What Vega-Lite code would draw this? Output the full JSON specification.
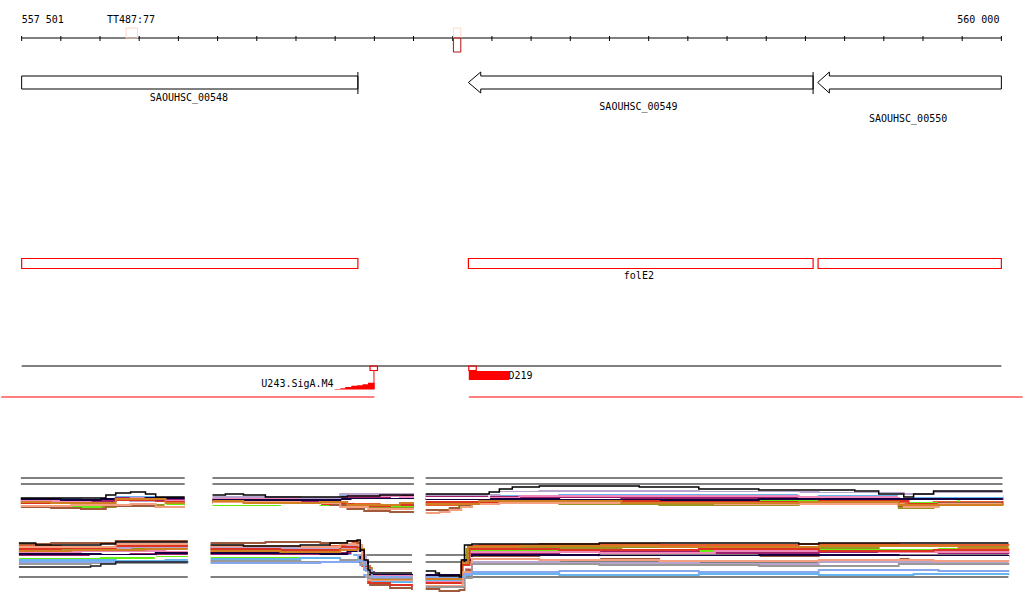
{
"$schema": "https://vega.github.io/schema/vega-lite/v6.json",
"width": 1024, "height": 611,
"autosize": {"type": "fit", "contains": "padding"},
"padding": 0,
"background": "white",
"config": {"view": {"stroke": null}},
"datasets": {
"ticks": [
{"x":557501,"y":36,"y2":41},{"x":557601,"y":36,"y2":41},{"x":557701,"y":36,"y2":41},{"x":557801,"y":36,"y2":41},{"x":557901,"y":36,"y2":41},
{"x":558001,"y":36,"y2":41},{"x":558101,"y":36,"y2":41},{"x":558201,"y":36,"y2":41},{"x":558301,"y":36,"y2":41},{"x":558401,"y":36,"y2":41},
{"x":558501,"y":36,"y2":41},{"x":558601,"y":36,"y2":41},{"x":558701,"y":36,"y2":41},{"x":558801,"y":36,"y2":41},{"x":558901,"y":36,"y2":41},
{"x":559001,"y":36,"y2":41},{"x":559101,"y":36,"y2":41},{"x":559201,"y":36,"y2":41},{"x":559301,"y":36,"y2":41},{"x":559401,"y":36,"y2":41},
{"x":559501,"y":36,"y2":41},{"x":559601,"y":36,"y2":41},{"x":559701,"y":36,"y2":41},{"x":559801,"y":36,"y2":41},{"x":559901,"y":36,"y2":41},
{"x":560001,"y":36,"y2":41},
{"x":558359,"y":72,"y2":94},{"x":559520.6,"y":72,"y2":94}
],
"blackRules": [
{"x":557501,"x2":560001,"y":38},
{"x":557501,"x2":560001,"y":366},
{"x":557499,"x2":557917,"y":478},{"x":557499,"x2":557917,"y":484},
{"x":557988,"x2":558502,"y":478},{"x":557988,"x2":558502,"y":484},
{"x":558532,"x2":560004,"y":478},{"x":558532,"x2":560004,"y":484},
{"x":557494,"x2":557925,"y":577},
{"x":557983,"x2":558497,"y":577},{"x":558357,"x2":558497,"y":555},{"x":558357,"x2":558497,"y":562},
{"x":558532,"x2":560019,"y":577},{"x":558532,"x2":560019,"y":555},{"x":558532,"x2":560019,"y":562}
],
"redRules": [
{"x":557449,"x2":558401,"y":397},{"x":558642,"x2":560055,"y":397}
],
"redVRules": [{"x":558400,"y":370,"y2":389}],
"genes": [
{"g":"SAOUHSC_00548","o":1,"x":557501,"y":76},{"g":"SAOUHSC_00548","o":2,"x":558359,"y":76},{"g":"SAOUHSC_00548","o":3,"x":558359,"y":89},{"g":"SAOUHSC_00548","o":4,"x":557501,"y":89},{"g":"SAOUHSC_00548","o":5,"x":557501,"y":76},
{"g":"SAOUHSC_00549","o":1,"x":559520.6,"y":76},{"g":"SAOUHSC_00549","o":2,"x":558672.5,"y":76},{"g":"SAOUHSC_00549","o":3,"x":558672.5,"y":72},{"g":"SAOUHSC_00549","o":4,"x":558641,"y":82.5},{"g":"SAOUHSC_00549","o":5,"x":558672.5,"y":93},{"g":"SAOUHSC_00549","o":6,"x":558672.5,"y":89},{"g":"SAOUHSC_00549","o":7,"x":559520.6,"y":89},{"g":"SAOUHSC_00549","o":8,"x":559520.6,"y":76},
{"g":"SAOUHSC_00550","o":1,"x":560001,"y":76},{"g":"SAOUHSC_00550","o":2,"x":559562,"y":76},{"g":"SAOUHSC_00550","o":3,"x":559562,"y":72},{"g":"SAOUHSC_00550","o":4,"x":559532.3,"y":82.5},{"g":"SAOUHSC_00550","o":5,"x":559562,"y":93},{"g":"SAOUHSC_00550","o":6,"x":559562,"y":89},{"g":"SAOUHSC_00550","o":7,"x":560001,"y":89},{"g":"SAOUHSC_00550","o":8,"x":560001,"y":76}
],
"redBoxes": [
{"x":557501,"x2":558359,"y":258.5,"y2":268.5},
{"x":558641,"x2":559520.6,"y":258.5,"y2":268.5},
{"x":559533.3,"x2":560001,"y":258.5,"y2":268.5},
{"x":558390,"x2":558409,"y":366,"y2":370.5},
{"x":558642,"x2":558661,"y":366,"y2":370.5}
],
"pinkBoxes": [
{"x":557767.4,"x2":557796.4,"y":28,"y2":38},
{"x":558602.7,"x2":558621.6,"y":28,"y2":38}
],
"darkRedBoxes": [{"x":558602.7,"x2":558621.6,"y":38,"y2":52}],
"filledRed": [{"x":558642,"x2":558745,"y":371,"y2":380}],
"stair": [
{"x":558299.7,"y":389,"y2":389.5},{"x":558314.2,"y":388.3,"y2":389.5},{"x":558326.9,"y":387,"y2":389.5},{"x":558342.2,"y":385.7,"y2":389.5},
{"x":558356.7,"y":385.3,"y2":389.5},{"x":558371,"y":384.3,"y2":389.5},{"x":558384.7,"y":382.7,"y2":389.5},{"x":558401.5,"y":382.7,"y2":389.5}
],
"labelsL": [
{"t":"557 501","x":557501,"y":20},{"t":"D219","x":558743,"y":375.5}
],
"labelsC": [
{"t":"TT487:77","x":557780,"y":20},
{"t":"SAOUHSC_00548","x":557928,"y":97.5},
{"t":"SAOUHSC_00549","x":559075,"y":106.5},
{"t":"SAOUHSC_00550","x":559763,"y":118.5},
{"t":"folE2","x":559076,"y":275.5}
],
"labelsR": [
{"t":"560 000","x":559996,"y":20},{"t":"U243.SigA.M4","x":558297,"y":383.5}
],
"expr": [
{"s":"k","p":"t1","x":557499,"y":498},{"s":"k","p":"t1","x":557716,"y":495},{"s":"k","p":"t1","x":557741,"y":493},{"s":"k","p":"t1","x":557779,"y":492},{"s":"k","p":"t1","x":557817,"y":494},{"s":"k","p":"t1","x":557843,"y":497},{"s":"k","p":"t1","x":557917,"y":497},
{"s":"o","p":"t1","x":557499,"y":502},{"s":"o","p":"t1","x":557627,"y":504},{"s":"o","p":"t1","x":557779,"y":500},{"s":"o","p":"t1","x":557843,"y":503},{"s":"o","p":"t1","x":557917,"y":503},
{"s":"l","p":"t1","x":557499,"y":504},{"s":"l","p":"t1","x":557576,"y":506},{"s":"l","p":"t1","x":557677,"y":507},{"s":"l","p":"t1","x":557741,"y":503},{"s":"l","p":"t1","x":557843,"y":505},{"s":"l","p":"t1","x":557917,"y":505},
{"s":"g","p":"t1","x":557499,"y":506},{"s":"g","p":"t1","x":557601,"y":507},{"s":"g","p":"t1","x":557703,"y":505},{"s":"g","p":"t1","x":557779,"y":502},{"s":"g","p":"t1","x":557868,"y":504},{"s":"g","p":"t1","x":557917,"y":504},
{"s":"c","p":"t1","x":557499,"y":499},{"s":"c","p":"t1","x":557652,"y":500},{"s":"c","p":"t1","x":557741,"y":497},{"s":"c","p":"t1","x":557843,"y":499},{"s":"c","p":"t1","x":557917,"y":499},
{"s":"m","p":"t1","x":557499,"y":500},{"s":"m","p":"t1","x":557627,"y":501},{"s":"m","p":"t1","x":557741,"y":498},{"s":"m","p":"t1","x":557843,"y":500},{"s":"m","p":"t1","x":557917,"y":500},
{"s":"b","p":"t1","x":557499,"y":507},{"s":"b","p":"t1","x":557576,"y":508},{"s":"b","p":"t1","x":557652,"y":509},{"s":"b","p":"t1","x":557716,"y":506},{"s":"b","p":"t1","x":557843,"y":507},{"s":"b","p":"t1","x":557917,"y":507},
{"s":"p","p":"t1","x":557499,"y":501},{"s":"p","p":"t1","x":557677,"y":503},{"s":"p","p":"t1","x":557779,"y":498},{"s":"p","p":"t1","x":557868,"y":501},{"s":"p","p":"t1","x":557917,"y":501},
{"s":"n","p":"t1","x":557499,"y":499},{"s":"n","p":"t1","x":557601,"y":500},{"s":"n","p":"t1","x":557703,"y":499},{"s":"n","p":"t1","x":557817,"y":498},{"s":"n","p":"t1","x":557917,"y":498},
{"s":"v","p":"t1","x":557499,"y":504},{"s":"v","p":"t1","x":557652,"y":505},{"s":"v","p":"t1","x":557779,"y":502},{"s":"v","p":"t1","x":557894,"y":503},{"s":"v","p":"t1","x":557917,"y":503},
{"s":"r","p":"t1","x":557499,"y":503},{"s":"r","p":"t1","x":557601,"y":504},{"s":"r","p":"t1","x":557741,"y":500},{"s":"r","p":"t1","x":557843,"y":502},{"s":"r","p":"t1","x":557917,"y":502},
{"s":"w","p":"t1","x":557499,"y":505},{"s":"w","p":"t1","x":557703,"y":503},{"s":"w","p":"t1","x":557868,"y":506},{"s":"w","p":"t1","x":557917,"y":506},
{"s":"s","p":"t1","x":557499,"y":506},{"s":"s","p":"t1","x":557627,"y":505},{"s":"s","p":"t1","x":557779,"y":504},{"s":"s","p":"t1","x":557843,"y":507},{"s":"s","p":"t1","x":557917,"y":507},
{"s":"u","p":"t1","x":557499,"y":502},{"s":"u","p":"t1","x":557576,"y":503},{"s":"u","p":"t1","x":557741,"y":499},{"s":"u","p":"t1","x":557868,"y":503},{"s":"u","p":"t1","x":557917,"y":503},

{"s":"k","p":"t2","x":557988,"y":495},{"s":"k","p":"t2","x":558021,"y":494},{"s":"k","p":"t2","x":558067,"y":495},{"s":"k","p":"t2","x":558123,"y":497},{"s":"k","p":"t2","x":558288,"y":497},{"s":"k","p":"t2","x":558332,"y":496},{"s":"k","p":"t2","x":558415,"y":495},{"s":"k","p":"t2","x":558502,"y":495},
{"s":"o","p":"t2","x":557988,"y":501},{"s":"o","p":"t2","x":558123,"y":502},{"s":"o","p":"t2","x":558263,"y":501},{"s":"o","p":"t2","x":558314,"y":504},{"s":"o","p":"t2","x":558415,"y":506},{"s":"o","p":"t2","x":558502,"y":506},
{"s":"l","p":"t2","x":557988,"y":503},{"s":"l","p":"t2","x":558067,"y":502},{"s":"l","p":"t2","x":558212,"y":504},{"s":"l","p":"t2","x":558288,"y":503},{"s":"l","p":"t2","x":558345,"y":507},{"s":"l","p":"t2","x":558441,"y":508},{"s":"l","p":"t2","x":558502,"y":508},
{"s":"g","p":"t2","x":557988,"y":505},{"s":"g","p":"t2","x":558161,"y":504},{"s":"g","p":"t2","x":558263,"y":505},{"s":"g","p":"t2","x":558314,"y":506},{"s":"g","p":"t2","x":558502,"y":506},
{"s":"c","p":"t2","x":557988,"y":499},{"s":"c","p":"t2","x":558123,"y":500},{"s":"c","p":"t2","x":558263,"y":498},{"s":"c","p":"t2","x":558314,"y":495},{"s":"c","p":"t2","x":558441,"y":494},{"s":"c","p":"t2","x":558502,"y":494},
{"s":"m","p":"t2","x":557988,"y":500},{"s":"m","p":"t2","x":558212,"y":501},{"s":"m","p":"t2","x":558314,"y":497},{"s":"m","p":"t2","x":558441,"y":496},{"s":"m","p":"t2","x":558502,"y":496},
{"s":"b","p":"t2","x":557988,"y":502},{"s":"b","p":"t2","x":558123,"y":503},{"s":"b","p":"t2","x":558288,"y":505},{"s":"b","p":"t2","x":558332,"y":509},{"s":"b","p":"t2","x":558375,"y":511},{"s":"b","p":"t2","x":558441,"y":512},{"s":"b","p":"t2","x":558502,"y":512},
{"s":"p","p":"t2","x":557988,"y":498},{"s":"p","p":"t2","x":558161,"y":499},{"s":"p","p":"t2","x":558288,"y":498},{"s":"p","p":"t2","x":558332,"y":496},{"s":"p","p":"t2","x":558466,"y":497},{"s":"p","p":"t2","x":558502,"y":497},
{"s":"n","p":"t2","x":557988,"y":500},{"s":"n","p":"t2","x":558314,"y":499},{"s":"n","p":"t2","x":558502,"y":499},
{"s":"v","p":"t2","x":557988,"y":497},{"s":"v","p":"t2","x":558212,"y":498},{"s":"v","p":"t2","x":558314,"y":494},{"s":"v","p":"t2","x":558502,"y":494},
{"s":"r","p":"t2","x":557988,"y":503},{"s":"r","p":"t2","x":558123,"y":504},{"s":"r","p":"t2","x":558288,"y":503},{"s":"r","p":"t2","x":558345,"y":506},{"s":"r","p":"t2","x":558441,"y":505},{"s":"r","p":"t2","x":558502,"y":505},
{"s":"w","p":"t2","x":557988,"y":504},{"s":"w","p":"t2","x":558263,"y":502},{"s":"w","p":"t2","x":558345,"y":500},{"s":"w","p":"t2","x":558502,"y":500},
{"s":"s","p":"t2","x":557988,"y":502},{"s":"s","p":"t2","x":558212,"y":503},{"s":"s","p":"t2","x":558314,"y":507},{"s":"s","p":"t2","x":558385,"y":509},{"s":"s","p":"t2","x":558502,"y":509},
{"s":"u","p":"t2","x":557988,"y":501},{"s":"u","p":"t2","x":558067,"y":503},{"s":"u","p":"t2","x":558263,"y":502},{"s":"u","p":"t2","x":558332,"y":505},{"s":"u","p":"t2","x":558466,"y":503},{"s":"u","p":"t2","x":558502,"y":503},

{"s":"k","p":"t3","x":558532,"y":494},{"s":"k","p":"t3","x":558694,"y":492},{"s":"k","p":"t3","x":558720,"y":489},{"s":"k","p":"t3","x":558753,"y":487},{"s":"k","p":"t3","x":558822,"y":486},{"s":"k","p":"t3","x":559077,"y":487},{"s":"k","p":"t3","x":559229,"y":489},{"s":"k","p":"t3","x":559382,"y":490},{"s":"k","p":"t3","x":559627,"y":491},{"s":"k","p":"t3","x":559688,"y":494},{"s":"k","p":"t3","x":559752,"y":497},{"s":"k","p":"t3","x":559777,"y":494},{"s":"k","p":"t3","x":559828,"y":491},{"s":"k","p":"t3","x":560004,"y":491},
{"s":"o","p":"t3","x":558532,"y":505},{"s":"o","p":"t3","x":558618,"y":506},{"s":"o","p":"t3","x":558644,"y":503},{"s":"o","p":"t3","x":558669,"y":502},{"s":"o","p":"t3","x":558975,"y":501},{"s":"o","p":"t3","x":559270,"y":502},{"s":"o","p":"t3","x":559535,"y":500},{"s":"o","p":"t3","x":559739,"y":503},{"s":"o","p":"t3","x":559828,"y":502},{"s":"o","p":"t3","x":560004,"y":502},
{"s":"l","p":"t3","x":558532,"y":499},{"s":"l","p":"t3","x":558669,"y":500},{"s":"l","p":"t3","x":558873,"y":504},{"s":"l","p":"t3","x":559128,"y":505},{"s":"l","p":"t3","x":559484,"y":504},{"s":"l","p":"t3","x":559739,"y":508},{"s":"l","p":"t3","x":559828,"y":504},{"s":"l","p":"t3","x":560004,"y":505},
{"s":"g","p":"t3","x":558532,"y":503},{"s":"g","p":"t3","x":558618,"y":507},{"s":"g","p":"t3","x":558650,"y":503},{"s":"g","p":"t3","x":558669,"y":502},{"s":"g","p":"t3","x":559031,"y":500},{"s":"g","p":"t3","x":559484,"y":501},{"s":"g","p":"t3","x":559764,"y":503},{"s":"g","p":"t3","x":559892,"y":499},{"s":"g","p":"t3","x":560004,"y":500},
{"s":"c","p":"t3","x":558532,"y":497},{"s":"c","p":"t3","x":558669,"y":496},{"s":"c","p":"t3","x":558873,"y":495},{"s":"c","p":"t3","x":559229,"y":494},{"s":"c","p":"t3","x":559535,"y":496},{"s":"c","p":"t3","x":559777,"y":497},{"s":"c","p":"t3","x":560004,"y":496},
{"s":"m","p":"t3","x":558532,"y":496},{"s":"m","p":"t3","x":558720,"y":497},{"s":"m","p":"t3","x":559031,"y":498},{"s":"m","p":"t3","x":559382,"y":497},{"s":"m","p":"t3","x":559739,"y":499},{"s":"m","p":"t3","x":560004,"y":498},
{"s":"b","p":"t3","x":558532,"y":510},{"s":"b","p":"t3","x":558593,"y":508},{"s":"b","p":"t3","x":558618,"y":505},{"s":"b","p":"t3","x":558650,"y":502},{"s":"b","p":"t3","x":558694,"y":501},{"s":"b","p":"t3","x":558873,"y":502},{"s":"b","p":"t3","x":559270,"y":503},{"s":"b","p":"t3","x":559739,"y":506},{"s":"b","p":"t3","x":559841,"y":503},{"s":"b","p":"t3","x":560004,"y":503},
{"s":"p","p":"t3","x":558532,"y":498},{"s":"p","p":"t3","x":558771,"y":496},{"s":"p","p":"t3","x":559128,"y":496},{"s":"p","p":"t3","x":559484,"y":497},{"s":"p","p":"t3","x":559739,"y":499},{"s":"p","p":"t3","x":559828,"y":496},{"s":"p","p":"t3","x":560004,"y":497},
{"s":"n","p":"t3","x":558532,"y":499},{"s":"n","p":"t3","x":558873,"y":500},{"s":"n","p":"t3","x":559382,"y":499},{"s":"n","p":"t3","x":560004,"y":499},
{"s":"v","p":"t3","x":558532,"y":495},{"s":"v","p":"t3","x":558720,"y":492},{"s":"v","p":"t3","x":558822,"y":491},{"s":"v","p":"t3","x":559229,"y":492},{"s":"v","p":"t3","x":559535,"y":493},{"s":"v","p":"t3","x":559752,"y":494},{"s":"v","p":"t3","x":559828,"y":492},{"s":"v","p":"t3","x":560004,"y":492},
{"s":"r","p":"t3","x":558532,"y":502},{"s":"r","p":"t3","x":558822,"y":501},{"s":"r","p":"t3","x":559128,"y":502},{"s":"r","p":"t3","x":559535,"y":501},{"s":"r","p":"t3","x":559764,"y":504},{"s":"r","p":"t3","x":560004,"y":501},
{"s":"w","p":"t3","x":558532,"y":498},{"s":"w","p":"t3","x":558694,"y":493},{"s":"w","p":"t3","x":558873,"y":493},{"s":"w","p":"t3","x":559484,"y":494},{"s":"w","p":"t3","x":559739,"y":496},{"s":"w","p":"t3","x":560004,"y":494},
{"s":"s","p":"t3","x":558532,"y":513},{"s":"s","p":"t3","x":558567,"y":512},{"s":"s","p":"t3","x":558593,"y":510},{"s":"s","p":"t3","x":558623,"y":507},{"s":"s","p":"t3","x":558650,"y":504},{"s":"s","p":"t3","x":558720,"y":503},{"s":"s","p":"t3","x":559270,"y":504},{"s":"s","p":"t3","x":559752,"y":507},{"s":"s","p":"t3","x":559841,"y":504},{"s":"s","p":"t3","x":560004,"y":504},
{"s":"u","p":"t3","x":558532,"y":504},{"s":"u","p":"t3","x":558669,"y":501},{"s":"u","p":"t3","x":559031,"y":503},{"s":"u","p":"t3","x":559484,"y":502},{"s":"u","p":"t3","x":559739,"y":505},{"s":"u","p":"t3","x":560004,"y":503},

{"s":"k","p":"b1","x":557494,"y":543},{"s":"k","p":"b1","x":557537,"y":545},{"s":"k","p":"b1","x":557703,"y":544},{"s":"k","p":"b1","x":557741,"y":542},{"s":"k","p":"b1","x":557925,"y":542},
{"s":"z","p":"b1","x":557494,"y":567},{"s":"z","p":"b1","x":557677,"y":566},{"s":"z","p":"b1","x":557703,"y":564},{"s":"z","p":"b1","x":557741,"y":562},{"s":"z","p":"b1","x":557925,"y":562},
{"s":"o","p":"b1","x":557494,"y":546},{"s":"o","p":"b1","x":557601,"y":547},{"s":"o","p":"b1","x":557779,"y":545},{"s":"o","p":"b1","x":557925,"y":545},
{"s":"l","p":"b1","x":557494,"y":550},{"s":"l","p":"b1","x":557652,"y":549},{"s":"l","p":"b1","x":557817,"y":548},{"s":"l","p":"b1","x":557925,"y":548},
{"s":"g","p":"b1","x":557494,"y":558},{"s":"g","p":"b1","x":557576,"y":559},{"s":"g","p":"b1","x":557703,"y":558},{"s":"g","p":"b1","x":557843,"y":557},{"s":"g","p":"b1","x":557925,"y":557},
{"s":"c","p":"b1","x":557494,"y":560},{"s":"c","p":"b1","x":557741,"y":561},{"s":"c","p":"b1","x":557868,"y":560},{"s":"c","p":"b1","x":557925,"y":560},
{"s":"m","p":"b1","x":557494,"y":555},{"s":"m","p":"b1","x":557627,"y":556},{"s":"m","p":"b1","x":557779,"y":554},{"s":"m","p":"b1","x":557925,"y":554},
{"s":"b","p":"b1","x":557494,"y":544},{"s":"b","p":"b1","x":557576,"y":543},{"s":"b","p":"b1","x":557741,"y":541},{"s":"b","p":"b1","x":557925,"y":541},
{"s":"p","p":"b1","x":557494,"y":552},{"s":"p","p":"b1","x":557652,"y":551},{"s":"p","p":"b1","x":557868,"y":552},{"s":"p","p":"b1","x":557925,"y":552},
{"s":"n","p":"b1","x":557494,"y":554},{"s":"n","p":"b1","x":557703,"y":555},{"s":"n","p":"b1","x":557843,"y":553},{"s":"n","p":"b1","x":557925,"y":553},
{"s":"v","p":"b1","x":557494,"y":548},{"s":"v","p":"b1","x":557779,"y":547},{"s":"v","p":"b1","x":557925,"y":547},
{"s":"r","p":"b1","x":557494,"y":549},{"s":"r","p":"b1","x":557601,"y":548},{"s":"r","p":"b1","x":557741,"y":546},{"s":"r","p":"b1","x":557925,"y":546},
{"s":"w","p":"b1","x":557494,"y":557},{"s":"w","p":"b1","x":557677,"y":556},{"s":"w","p":"b1","x":557843,"y":558},{"s":"w","p":"b1","x":557925,"y":558},
{"s":"s","p":"b1","x":557494,"y":547},{"s":"s","p":"b1","x":557741,"y":544},{"s":"s","p":"b1","x":557925,"y":544},
{"s":"u","p":"b1","x":557494,"y":551},{"s":"u","p":"b1","x":557627,"y":550},{"s":"u","p":"b1","x":557817,"y":549},{"s":"u","p":"b1","x":557925,"y":549},
{"s":"a","p":"b1","x":557494,"y":564},{"s":"a","p":"b1","x":557677,"y":563},{"s":"a","p":"b1","x":557925,"y":563},
{"s":"f","p":"b1","x":557494,"y":562},{"s":"f","p":"b1","x":557925,"y":561},

{"s":"k","p":"b2","x":557983,"y":545},{"s":"k","p":"b2","x":558067,"y":546},{"s":"k","p":"b2","x":558212,"y":545},{"s":"k","p":"b2","x":558288,"y":543},{"s":"k","p":"b2","x":558332,"y":541},{"s":"k","p":"b2","x":558357,"y":540},{"s":"k","p":"b2","x":558365,"y":550},{"s":"k","p":"b2","x":558375,"y":560},{"s":"k","p":"b2","x":558385,"y":570},{"s":"k","p":"b2","x":558390,"y":573},{"s":"k","p":"b2","x":558497,"y":573},
{"s":"o","p":"b2","x":557983,"y":547},{"s":"o","p":"b2","x":558161,"y":548},{"s":"o","p":"b2","x":558288,"y":546},{"s":"o","p":"b2","x":558345,"y":543},{"s":"o","p":"b2","x":558365,"y":555},{"s":"o","p":"b2","x":558375,"y":566},{"s":"o","p":"b2","x":558390,"y":578},{"s":"o","p":"b2","x":558441,"y":579},{"s":"o","p":"b2","x":558497,"y":580},
{"s":"l","p":"b2","x":557983,"y":550},{"s":"l","p":"b2","x":558123,"y":549},{"s":"l","p":"b2","x":558288,"y":548},{"s":"l","p":"b2","x":558345,"y":545},{"s":"l","p":"b2","x":558365,"y":556},{"s":"l","p":"b2","x":558375,"y":568},{"s":"l","p":"b2","x":558395,"y":576},{"s":"l","p":"b2","x":558466,"y":577},{"s":"l","p":"b2","x":558497,"y":578},
{"s":"g","p":"b2","x":557983,"y":557},{"s":"g","p":"b2","x":558212,"y":558},{"s":"g","p":"b2","x":558288,"y":556},{"s":"g","p":"b2","x":558345,"y":554},{"s":"g","p":"b2","x":558370,"y":565},{"s":"g","p":"b2","x":558380,"y":574},{"s":"g","p":"b2","x":558400,"y":577},{"s":"g","p":"b2","x":558497,"y":578},
{"s":"c","p":"b2","x":557983,"y":559},{"s":"c","p":"b2","x":558212,"y":558},{"s":"c","p":"b2","x":558314,"y":555},{"s":"c","p":"b2","x":558360,"y":562},{"s":"c","p":"b2","x":558375,"y":575},{"s":"c","p":"b2","x":558395,"y":582},{"s":"c","p":"b2","x":558497,"y":583},
{"s":"m","p":"b2","x":557983,"y":554},{"s":"m","p":"b2","x":558161,"y":555},{"s":"m","p":"b2","x":558288,"y":553},{"s":"m","p":"b2","x":558345,"y":550},{"s":"m","p":"b2","x":558365,"y":560},{"s":"m","p":"b2","x":558380,"y":572},{"s":"m","p":"b2","x":558400,"y":575},{"s":"m","p":"b2","x":558497,"y":576},
{"s":"b","p":"b2","x":557983,"y":543},{"s":"b","p":"b2","x":558123,"y":542},{"s":"b","p":"b2","x":558263,"y":543},{"s":"b","p":"b2","x":558332,"y":541},{"s":"b","p":"b2","x":558360,"y":550},{"s":"b","p":"b2","x":558375,"y":568},{"s":"b","p":"b2","x":558390,"y":585},{"s":"b","p":"b2","x":558441,"y":588},{"s":"b","p":"b2","x":558497,"y":590},
{"s":"p","p":"b2","x":557983,"y":552},{"s":"p","p":"b2","x":558212,"y":553},{"s":"p","p":"b2","x":558314,"y":549},{"s":"p","p":"b2","x":558357,"y":552},{"s":"p","p":"b2","x":558375,"y":571},{"s":"p","p":"b2","x":558395,"y":576},{"s":"p","p":"b2","x":558497,"y":577},
{"s":"n","p":"b2","x":557983,"y":553},{"s":"n","p":"b2","x":558263,"y":554},{"s":"n","p":"b2","x":558332,"y":551},{"s":"n","p":"b2","x":558365,"y":562},{"s":"n","p":"b2","x":558385,"y":574},{"s":"n","p":"b2","x":558497,"y":575},
{"s":"v","p":"b2","x":557983,"y":548},{"s":"v","p":"b2","x":558263,"y":549},{"s":"v","p":"b2","x":558332,"y":546},{"s":"v","p":"b2","x":558360,"y":555},{"s":"v","p":"b2","x":558380,"y":577},{"s":"v","p":"b2","x":558441,"y":580},{"s":"v","p":"b2","x":558497,"y":582},
{"s":"r","p":"b2","x":557983,"y":549},{"s":"r","p":"b2","x":558161,"y":550},{"s":"r","p":"b2","x":558314,"y":547},{"s":"r","p":"b2","x":558357,"y":548},{"s":"r","p":"b2","x":558370,"y":566},{"s":"r","p":"b2","x":558385,"y":583},{"s":"r","p":"b2","x":558441,"y":585},{"s":"r","p":"b2","x":558497,"y":587},
{"s":"w","p":"b2","x":557983,"y":556},{"s":"w","p":"b2","x":558288,"y":556},{"s":"w","p":"b2","x":558345,"y":553},{"s":"w","p":"b2","x":558375,"y":573},{"s":"w","p":"b2","x":558497,"y":574},
{"s":"s","p":"b2","x":557983,"y":546},{"s":"s","p":"b2","x":558212,"y":547},{"s":"s","p":"b2","x":558314,"y":544},{"s":"s","p":"b2","x":558352,"y":545},{"s":"s","p":"b2","x":558370,"y":565},{"s":"s","p":"b2","x":558385,"y":580},{"s":"s","p":"b2","x":558497,"y":581},
{"s":"u","p":"b2","x":557983,"y":551},{"s":"u","p":"b2","x":558161,"y":552},{"s":"u","p":"b2","x":558314,"y":550},{"s":"u","p":"b2","x":558357,"y":549},{"s":"u","p":"b2","x":558375,"y":569},{"s":"u","p":"b2","x":558395,"y":579},{"s":"u","p":"b2","x":558497,"y":579},
{"s":"a","p":"b2","x":557983,"y":561},{"s":"a","p":"b2","x":558212,"y":562},{"s":"a","p":"b2","x":558314,"y":560},{"s":"a","p":"b2","x":558365,"y":565},{"s":"a","p":"b2","x":558385,"y":578},{"s":"a","p":"b2","x":558497,"y":579},
{"s":"f","p":"b2","x":557983,"y":563},{"s":"f","p":"b2","x":558263,"y":562},{"s":"f","p":"b2","x":558357,"y":561},{"s":"f","p":"b2","x":558375,"y":570},{"s":"f","p":"b2","x":558395,"y":577},{"s":"f","p":"b2","x":558497,"y":577},

{"s":"k","p":"b3","x":558532,"y":571},{"s":"k","p":"b3","x":558557,"y":573},{"s":"k","p":"b3","x":558567,"y":576},{"s":"k","p":"b3","x":558618,"y":577},{"s":"k","p":"b3","x":558623,"y":560},{"s":"k","p":"b3","x":558631,"y":545},{"s":"k","p":"b3","x":558650,"y":544},{"s":"k","p":"b3","x":558975,"y":543},{"s":"k","p":"b3","x":559484,"y":544},{"s":"k","p":"b3","x":559535,"y":543},{"s":"k","p":"b3","x":560019,"y":543},
{"s":"o","p":"b3","x":558532,"y":580},{"s":"o","p":"b3","x":558618,"y":583},{"s":"o","p":"b3","x":558626,"y":560},{"s":"o","p":"b3","x":558640,"y":546},{"s":"o","p":"b3","x":558669,"y":545},{"s":"o","p":"b3","x":558822,"y":544},{"s":"o","p":"b3","x":559128,"y":545},{"s":"o","p":"b3","x":559484,"y":544},{"s":"o","p":"b3","x":559739,"y":545},{"s":"o","p":"b3","x":560019,"y":546},
{"s":"l","p":"b3","x":558532,"y":578},{"s":"l","p":"b3","x":558623,"y":566},{"s":"l","p":"b3","x":558636,"y":549},{"s":"l","p":"b3","x":558720,"y":548},{"s":"l","p":"b3","x":559031,"y":547},{"s":"l","p":"b3","x":559382,"y":548},{"s":"l","p":"b3","x":559688,"y":546},{"s":"l","p":"b3","x":559892,"y":547},{"s":"l","p":"b3","x":560019,"y":547},
{"s":"g","p":"b3","x":558532,"y":581},{"s":"g","p":"b3","x":558623,"y":570},{"s":"g","p":"b3","x":558640,"y":551},{"s":"g","p":"b3","x":558771,"y":550},{"s":"g","p":"b3","x":559077,"y":551},{"s":"g","p":"b3","x":559535,"y":550},{"s":"g","p":"b3","x":559841,"y":549},{"s":"g","p":"b3","x":560019,"y":550},
{"s":"c","p":"b3","x":558532,"y":580},{"s":"c","p":"b3","x":558626,"y":575},{"s":"c","p":"b3","x":558650,"y":574},{"s":"c","p":"b3","x":558873,"y":575},{"s":"c","p":"b3","x":559229,"y":574},{"s":"c","p":"b3","x":559535,"y":575},{"s":"c","p":"b3","x":559777,"y":574},{"s":"c","p":"b3","x":560019,"y":575},
{"s":"m","p":"b3","x":558532,"y":576},{"s":"m","p":"b3","x":558623,"y":565},{"s":"m","p":"b3","x":558640,"y":553},{"s":"m","p":"b3","x":558873,"y":552},{"s":"m","p":"b3","x":559229,"y":553},{"s":"m","p":"b3","x":559535,"y":552},{"s":"m","p":"b3","x":559841,"y":553},{"s":"m","p":"b3","x":560019,"y":552},
{"s":"b","p":"b3","x":558532,"y":589},{"s":"b","p":"b3","x":558567,"y":591},{"s":"b","p":"b3","x":558618,"y":590},{"s":"b","p":"b3","x":558631,"y":570},{"s":"b","p":"b3","x":558650,"y":557},{"s":"b","p":"b3","x":558822,"y":558},{"s":"b","p":"b3","x":559128,"y":557},{"s":"b","p":"b3","x":559535,"y":558},{"s":"b","p":"b3","x":559764,"y":557},{"s":"b","p":"b3","x":560019,"y":558},
{"s":"p","p":"b3","x":558532,"y":582},{"s":"p","p":"b3","x":558626,"y":568},{"s":"p","p":"b3","x":558644,"y":552},{"s":"p","p":"b3","x":558975,"y":553},{"s":"p","p":"b3","x":559270,"y":551},{"s":"p","p":"b3","x":559688,"y":552},{"s":"p","p":"b3","x":560019,"y":553},
{"s":"n","p":"b3","x":558532,"y":575},{"s":"n","p":"b3","x":558631,"y":560},{"s":"n","p":"b3","x":558650,"y":555},{"s":"n","p":"b3","x":558975,"y":556},{"s":"n","p":"b3","x":559382,"y":555},{"s":"n","p":"b3","x":559739,"y":556},{"s":"n","p":"b3","x":560019,"y":555},
{"s":"v","p":"b3","x":558532,"y":584},{"s":"v","p":"b3","x":558631,"y":572},{"s":"v","p":"b3","x":558650,"y":562},{"s":"v","p":"b3","x":558873,"y":563},{"s":"v","p":"b3","x":559229,"y":564},{"s":"v","p":"b3","x":559535,"y":562},{"s":"v","p":"b3","x":559841,"y":563},{"s":"v","p":"b3","x":560019,"y":563},
{"s":"r","p":"b3","x":558532,"y":583},{"s":"r","p":"b3","x":558626,"y":565},{"s":"r","p":"b3","x":558644,"y":549},{"s":"r","p":"b3","x":558873,"y":550},{"s":"r","p":"b3","x":559229,"y":549},{"s":"r","p":"b3","x":559535,"y":551},{"s":"r","p":"b3","x":559828,"y":550},{"s":"r","p":"b3","x":560019,"y":551},
{"s":"w","p":"b3","x":558532,"y":585},{"s":"w","p":"b3","x":558631,"y":567},{"s":"w","p":"b3","x":558650,"y":558},{"s":"w","p":"b3","x":558975,"y":557},{"s":"w","p":"b3","x":559382,"y":558},{"s":"w","p":"b3","x":559739,"y":557},{"s":"w","p":"b3","x":560019,"y":558},
{"s":"s","p":"b3","x":558532,"y":586},{"s":"s","p":"b3","x":558626,"y":572},{"s":"s","p":"b3","x":558650,"y":559},{"s":"s","p":"b3","x":558822,"y":560},{"s":"s","p":"b3","x":559128,"y":561},{"s":"s","p":"b3","x":559535,"y":560},{"s":"s","p":"b3","x":559828,"y":561},{"s":"s","p":"b3","x":560019,"y":560},
{"s":"u","p":"b3","x":558532,"y":579},{"s":"u","p":"b3","x":558623,"y":563},{"s":"u","p":"b3","x":558640,"y":547},{"s":"u","p":"b3","x":558771,"y":546},{"s":"u","p":"b3","x":559128,"y":547},{"s":"u","p":"b3","x":559535,"y":546},{"s":"u","p":"b3","x":559892,"y":548},{"s":"u","p":"b3","x":560019,"y":548},
{"s":"a","p":"b3","x":558532,"y":587},{"s":"a","p":"b3","x":558631,"y":578},{"s":"a","p":"b3","x":558650,"y":564},{"s":"a","p":"b3","x":558975,"y":565},{"s":"a","p":"b3","x":559382,"y":566},{"s":"a","p":"b3","x":559739,"y":564},{"s":"a","p":"b3","x":560019,"y":565},
{"s":"f","p":"b3","x":558532,"y":577},{"s":"f","p":"b3","x":558631,"y":574},{"s":"f","p":"b3","x":558650,"y":572},{"s":"f","p":"b3","x":558873,"y":571},{"s":"f","p":"b3","x":559229,"y":572},{"s":"f","p":"b3","x":559535,"y":570},{"s":"f","p":"b3","x":559841,"y":571},{"s":"f","p":"b3","x":560019,"y":570}
]
},
"encoding": {
"x": {"field": "x", "type": "quantitative", "scale": {"domain": [557448.3, 560056.2], "nice": false, "zero": false}, "axis": null},
"y": {"field": "y", "type": "quantitative", "scale": {"domain": [0, 611], "reverse": true, "nice": false, "zero": false}, "axis": null}
},
"layer": [
{"data": {"name": "ticks"}, "mark": {"type": "rule", "color": "#000000", "strokeWidth": 1}, "encoding": {"y2": {"field": "y2"}}},
{"data": {"name": "blackRules"}, "mark": {"type": "rule", "color": "#000000", "strokeWidth": 1}, "encoding": {"x2": {"field": "x2"}}},
{"data": {"name": "redRules"}, "mark": {"type": "rule", "color": "#ff0000", "strokeWidth": 1}, "encoding": {"x2": {"field": "x2"}}},
{"data": {"name": "redVRules"}, "mark": {"type": "rule", "color": "#ff0000", "strokeWidth": 1}, "encoding": {"y2": {"field": "y2"}}},
{"data": {"name": "genes"}, "mark": {"type": "line", "color": "#000000", "strokeWidth": 1, "interpolate": "linear"}, "encoding": {"detail": {"field": "g"}, "order": {"field": "o", "type": "quantitative"}}},
{"data": {"name": "redBoxes"}, "mark": {"type": "rect", "fill": "transparent", "stroke": "#ff0000", "strokeWidth": 1.2}, "encoding": {"x2": {"field": "x2"}, "y2": {"field": "y2"}}},
{"data": {"name": "pinkBoxes"}, "mark": {"type": "rect", "fill": "transparent", "stroke": "#ffd6c8", "strokeWidth": 1}, "encoding": {"x2": {"field": "x2"}, "y2": {"field": "y2"}}},
{"data": {"name": "darkRedBoxes"}, "mark": {"type": "rect", "fill": "transparent", "stroke": "#b01010", "strokeWidth": 1}, "encoding": {"x2": {"field": "x2"}, "y2": {"field": "y2"}}},
{"data": {"name": "filledRed"}, "mark": {"type": "rect", "fill": "#ff0000"}, "encoding": {"x2": {"field": "x2"}, "y2": {"field": "y2"}}},
{"data": {"name": "stair"}, "mark": {"type": "area", "color": "#ff0000", "interpolate": "step-after"}, "encoding": {"y2": {"field": "y2"}}},
{"data": {"name": "expr"}, "transform": [{"filter": "datum.s !== 'k' && datum.s !== 'z'"}], "mark": {"type": "line", "interpolate": "step-after", "strokeWidth": 1.8}, "encoding": {"color": {"field": "s", "type": "nominal", "legend": null, "scale": {"domain": ["o","l","g","c","m","b","p","n","v","r","w","s","u","a","f","k","z"], "range": ["#e8602c","#9c9420","#66ee11","#66b4ee","#a0206e","#a05a3c","#ee88bb","#140040","#b8a4cc","#dd3322","#ffffff","#f4a080","#d08020","#999999","#88a8ee","#000000","#1a1a1a"]}}, "detail": {"field": "p"}}},
{"data": {"name": "expr"}, "transform": [{"filter": "datum.s === 'k' || datum.s === 'z'"}], "mark": {"type": "line", "interpolate": "step-after", "strokeWidth": 1.5}, "encoding": {"color": {"field": "s", "type": "nominal", "legend": null}, "detail": {"field": "p"}}},
{"data": {"name": "labelsL"}, "mark": {"type": "text", "align": "left", "baseline": "middle", "font": "DejaVu Sans Mono", "fontSize": 10, "color": "#000000"}, "encoding": {"text": {"field": "t"}}},
{"data": {"name": "labelsC"}, "mark": {"type": "text", "align": "center", "baseline": "middle", "font": "DejaVu Sans Mono", "fontSize": 10, "color": "#000000"}, "encoding": {"text": {"field": "t"}}},
{"data": {"name": "labelsR"}, "mark": {"type": "text", "align": "right", "baseline": "middle", "font": "DejaVu Sans Mono", "fontSize": 10, "color": "#000000"}, "encoding": {"text": {"field": "t"}}}
]
}
